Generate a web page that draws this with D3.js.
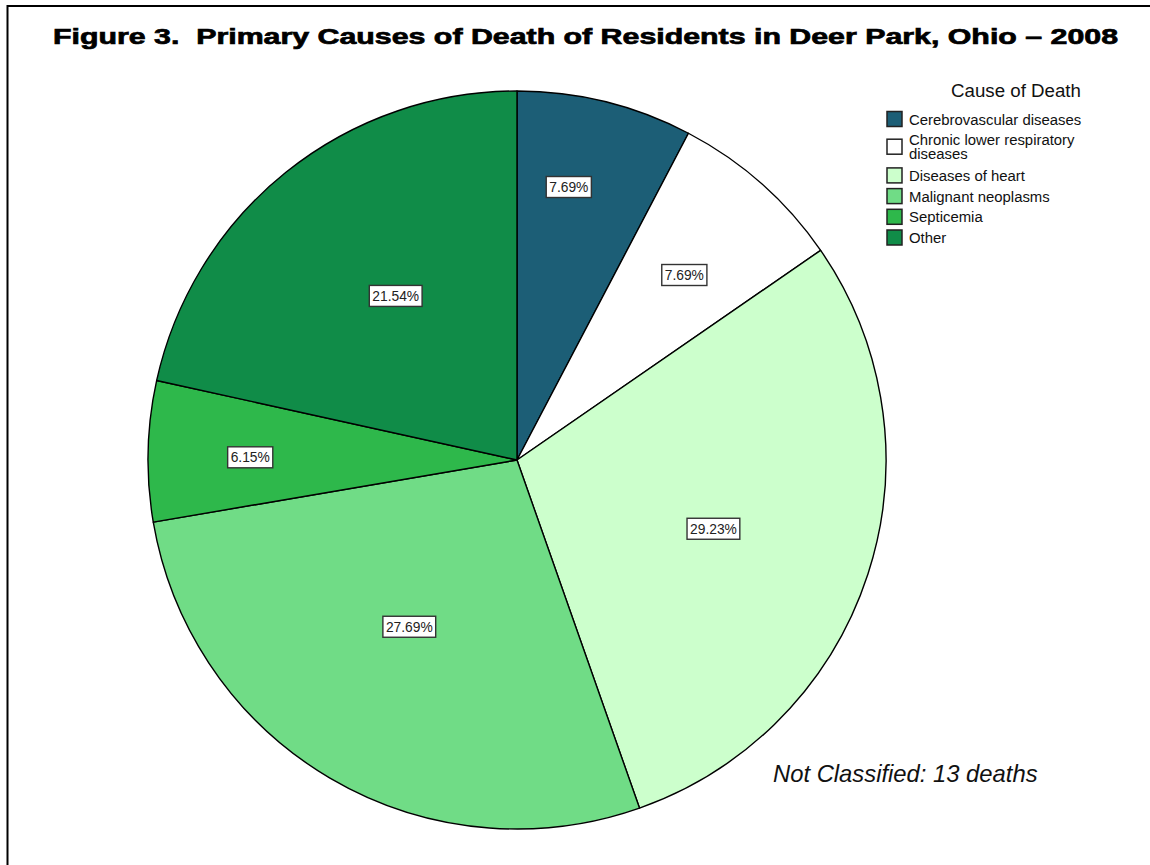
<!DOCTYPE html>
<html>
<head>
<meta charset="utf-8">
<script src="https://cdn.jsdelivr.net/npm/d3@7"></script>
<style>
  html, body { margin: 0; padding: 0; background: #fff; }
  svg { display: block; }
</style>
</head>
<body>
<svg id="chart" width="1150" height="865"></svg>
<script>
// ---- data ----
const categories = [
  "Cerebrovascular diseases",
  "Chronic lower respiratory diseases",
  "Diseases of heart",
  "Malignant neoplasms",
  "Septicemia",
  "Other"
];
const legendLines = [
  ["Cerebrovascular diseases"],
  ["Chronic lower respiratory", "diseases"],
  ["Diseases of heart"],
  ["Malignant neoplasms"],
  ["Septicemia"],
  ["Other"]
];
const percents = [7.69, 7.69, 29.23, 27.69, 6.15, 21.54];
const titleText = "Figure 3.  Primary Causes of Death of Residents in Deer Park, Ohio \u2013 2008";
const legendTitle = "Cause of Death";
const noteText = "Not Classified: 13 deaths";

// ---- styles / layout ----
const colors = ["#1c5e76", "#ffffff", "#ccffcc", "#70dc86", "#2eb84b", "#108c48"];
// label placement: [radius fraction, angle offset in degrees]
const labelPlacement = [[0.753, -3.1], [0.676, 0.6], [0.564, 1.3], [0.538, 2.4], [0.723, -0.8], [0.553, 2.3]];

const svg = d3.select("#chart");
const W = 1150, H = 865;
const cx = 517, cy = 460, R = 369;

// border (top and left)
svg.append("line").attr("x1", 7.5).attr("x2", W).attr("y1", 6).attr("y2", 6)
  .attr("stroke", "#000").attr("stroke-width", 2);
svg.append("line").attr("x1", 7.5).attr("x2", 7.5).attr("y1", 5).attr("y2", H)
  .attr("stroke", "#000").attr("stroke-width", 2);

// title
svg.append("text")
  .attr("x", 53).attr("y", 44)
  .attr("font-family", "'Arial Black', 'Liberation Sans', Arial, sans-serif")
  .attr("font-weight", 900)
  .attr("font-size", 22)
  .attr("fill", "#000")
  .attr("stroke", "#000").attr("stroke-width", 0.7)
  .attr("textLength", 1065)
  .attr("lengthAdjust", "spacingAndGlyphs")
  .style("white-space", "pre")
  .text(titleText);

// pie
const pie = d3.pie().sort(null).value(d => d);
const arcs = pie(percents);
const arc = d3.arc().innerRadius(0).outerRadius(R);
const g = svg.append("g").attr("transform", `translate(${cx},${cy})`);

g.selectAll("path.slice")
  .data(arcs)
  .join("path")
  .attr("class", "slice")
  .attr("d", arc)
  .attr("fill", (d, i) => colors[i])
  .attr("stroke", "#000")
  .attr("stroke-width", 1.4)
  .attr("stroke-linejoin", "round");

// labels
const fmt = v => v.toFixed(2) + "%";
const lab = g.selectAll("g.lab")
  .data(arcs)
  .join("g")
  .attr("class", "lab")
  .attr("transform", (d, i) => {
    const [rf, off] = labelPlacement[i];
    const a = (d.startAngle + d.endAngle) / 2 + off * Math.PI / 180;
    const r = rf * R;
    return `translate(${r * Math.sin(a)},${-r * Math.cos(a)})`;
  });
lab.each(function(d) {
  const sel = d3.select(this);
  const t = sel.append("text")
    .attr("text-anchor", "middle")
    .attr("dy", "0.36em")
    .attr("font-family", "Arial, 'Liberation Sans', sans-serif")
    .attr("font-size", 13.8)
    .attr("fill", "#222")
    .text(fmt(d.data));
  const bb = t.node().getBBox();
  sel.insert("rect", "text")
    .attr("x", bb.x - 3).attr("y", -10.5)
    .attr("width", bb.width + 6).attr("height", 21)
    .attr("fill", "#fff")
    .attr("stroke", "#333")
    .attr("stroke-width", 1.4);
});

// legend
svg.append("text")
  .attr("x", 1016).attr("y", 96.5)
  .attr("text-anchor", "middle")
  .attr("font-family", "Arial, 'Liberation Sans', sans-serif")
  .attr("font-size", 18.7)
  .attr("fill", "#111")
  .text(legendTitle);

let cursor = 119;
const lineH = 14;
categories.forEach((c, i) => {
  const lines = legendLines[i];
  const n = lines.length;
  const center = cursor + (n - 1) * lineH / 2;
  svg.append("rect")
    .attr("x", 887).attr("y", center - 7.5)
    .attr("width", 15).attr("height", 15)
    .attr("fill", colors[i])
    .attr("stroke", "#222")
    .attr("stroke-width", 1.5);
  lines.forEach((ln, j) => {
    svg.append("text")
      .attr("x", 909)
      .attr("y", center - (n - 1) * lineH / 2 + j * lineH + 5.5)
      .attr("font-family", "Arial, 'Liberation Sans', sans-serif")
      .attr("font-size", 14.9)
      .attr("fill", "#111")
      .text(ln);
  });
  cursor += 20.7 + (n - 1) * 15;
});

// note
svg.append("text")
  .attr("x", 773).attr("y", 782)
  .attr("font-family", "Arial, 'Liberation Sans', sans-serif")
  .attr("font-style", "italic")
  .attr("font-size", 23.8)
  .attr("fill", "#111")
  .text(noteText);
</script>
</body>
</html>
